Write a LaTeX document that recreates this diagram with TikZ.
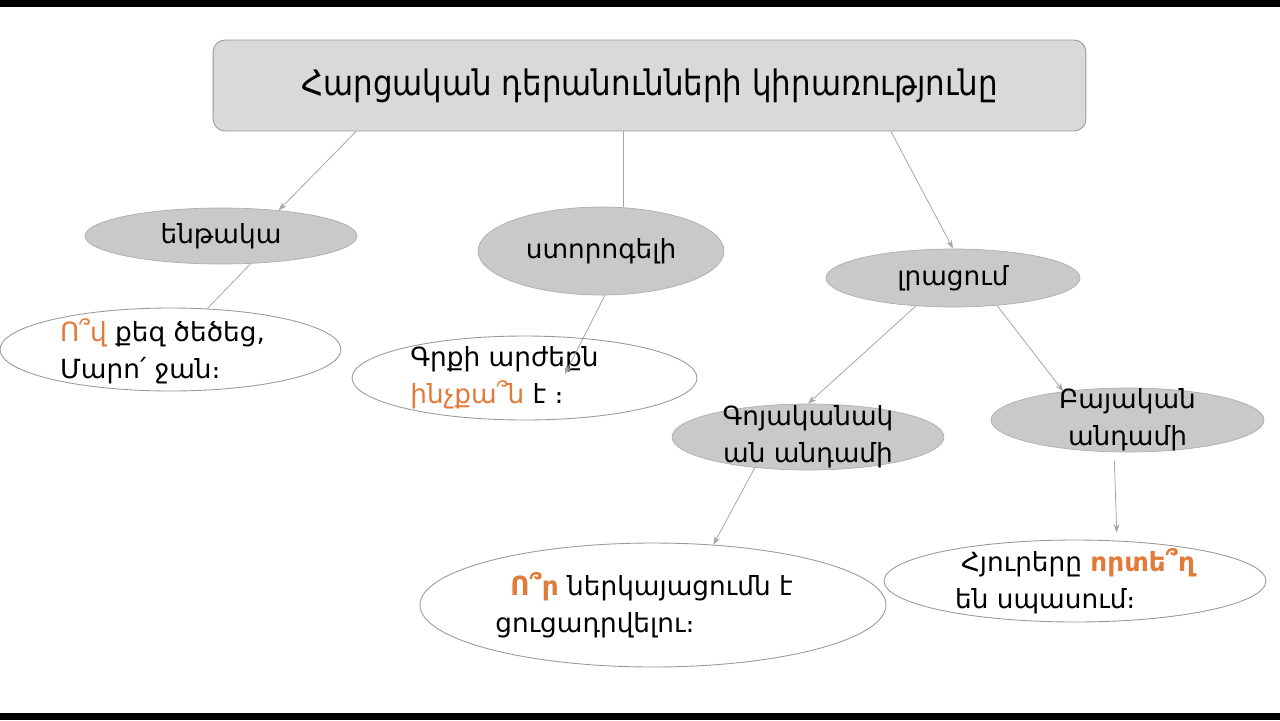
\documentclass[tikz,border=0pt]{standalone}
\usepackage{fontspec}
\setmainfont{DejaVu Sans}
\newfontfamily\titlefont[FakeStretch=0.88]{DejaVu Sans}
\usetikzlibrary{shapes.geometric,arrows.meta}
\definecolor{boxgray}{HTML}{D9D9D9}
\definecolor{ellgray}{HTML}{C9C9C9}
\definecolor{edgegray}{HTML}{9A9A9A}
\definecolor{linegray}{HTML}{A6A6A6}
\definecolor{qorange}{HTML}{E07B39}
\newcommand\qw[1]{\textcolor{qorange}{#1}}

\begin{document}
\begin{tikzpicture}[x=0.02cm,y=-0.02cm]
\tikzset{title box/.style = {draw=edgegray, fill=boxgray, rounded corners=0.24cm, line width=0.5pt,
            minimum width=17.46cm, minimum height=1.82cm, inner sep=0pt},
         gray ell/.style = {ellipse, draw=edgegray!80, fill=ellgray, line width=0.4pt, inner sep=0pt},
         white ell/.style = {ellipse, draw=edgegray, fill=white, line width=0.5pt, inner sep=0pt},
         txt/.style = {align=center, inner sep=0pt, font=\fontsize{15}{21}\selectfont},
         ltxt/.style = {align=left, inner sep=0pt, font=\fontsize{15}{21}\selectfont},
         conn/.style = {draw=linegray, line width=0.45pt},
         arr/.style = {conn, -{Stealth[length=0.17cm, width=0.12cm]}}}
\useasboundingbox (0,0) rectangle (1280,720);
\fill[black] (0,0) rectangle (1280,7);
\fill[black] (0,713) rectangle (1280,720);

% title
\node[title box] (title) at (649.5,85.5) {\titlefont\fontsize{20}{23}\selectfont Հարցական դերանունների կիրառությունը};

% first level
\node[gray ell, minimum width=5.44cm, minimum height=1.12cm, label={[txt]center:ենթակա}] (ent) at (221,236) {};
\node[gray ell, minimum width=4.92cm, minimum height=1.76cm, label={[txt]center:ստորոգելի}] (sto) at (601,251) {};
\node[gray ell, minimum width=5.08cm, minimum height=1.16cm, label={[txt]center:լրացում}] (lrac) at (953,278) {};

% second level
\node[gray ell, minimum width=5.44cm, minimum height=1.32cm, label={[txt]center:Գոյականակ\\ան անդամի}] (goy) at (808,437) {};
\node[gray ell, minimum width=5.46cm, minimum height=1.28cm, label={[txt]center:Բայական\\անդամի}] (bay) at (1127.5,420) {};

% examples
\node[white ell, minimum width=6.82cm, minimum height=1.66cm,
      label={[ltxt, xshift=-0.16cm, yshift=-0.04cm]center:\qw{Ո՞վ} քեզ ծեծեց,\\Մարո՛ ջան։}] (ex1) at (170.5,349.5) {};
\node[white ell, minimum width=6.90cm, minimum height=1.68cm,
      label={[ltxt, xshift=-0.4cm]center:Գրքի արժեքն\\\qw{ինչքա՞ն} է ։}] (ex2) at (524.5,378) {};
\node[white ell, minimum width=9.32cm, minimum height=2.48cm,
      label={[ltxt, xshift=-0.18cm]center:\hspace*{0.3cm}\qw{\bfseries Ո՞ր} ներկայացումն է\\ցուցադրվելու։}] (ex3) at (653,605) {};
\node[white ell, minimum width=7.64cm, minimum height=1.64cm,
      label={[ltxt]center:\hspace*{0.12cm}Հյուրերը \qw{\bfseries որտե՞ղ}\\են սպասում։}] (ex4) at (1075,581) {};

% connectors
\draw[arr] ([xshift=-5.87cm]title.south) -- (ent.24);
\draw[conn] (sto.63) -- (sto.63 |- title.south);
\draw[arr] ([xshift=4.83cm]title.south) -- (lrac.north);
\draw[conn] (ent.-43) -- (ex1.48);
\draw[arr] (sto.-85) -- ([shift={(0.81cm,0.08cm)}]ex2.center);
\draw[arr] (lrac.217) -- (goy.north);
\draw[arr] (lrac.-32) -- (bay.156);
\draw[arr] (goy.210) -- (ex3.45);
\draw[arr, shorten <=0.16cm, shorten >=0.14cm] ([xshift=-0.27cm]bay.south) -- ([xshift=0.84cm]ex4.north);
\end{tikzpicture}
\end{document}
